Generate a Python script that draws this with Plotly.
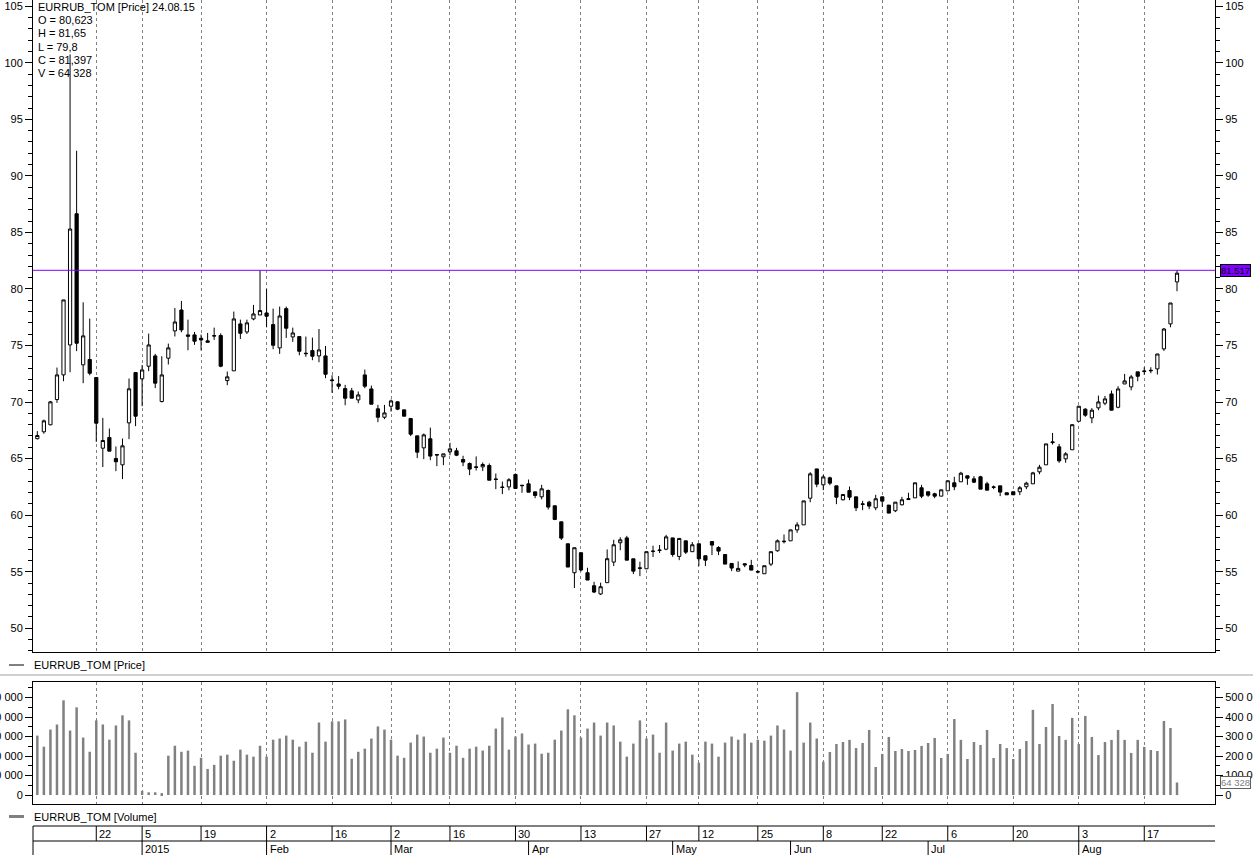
import plotly.graph_objects as go

# ---------------- data ----------------
SYMBOL = "EURRUB_TOM"
LAST_DATE = "24.08.15"

OPEN = [66.76, 67.37, 67.99, 70.22, 72.40, 75.05, 86.65, 73.29, 73.76, 72.17,
        65.92, 66.87, 65.01, 64.45, 68.16, 72.61, 72.05, 73.17, 74.08, 70.05,
        73.88, 76.29, 78.14, 75.94, 75.94, 75.64, 75.41, 75.83, 75.88, 71.90,
        72.76, 76.91, 76.20, 77.35, 77.70, 77.88, 76.85, 74.79, 78.26, 75.76,
        75.79, 74.32, 74.55, 74.08, 74.08, 71.96, 71.60, 71.19, 70.99, 70.19,
        72.40, 71.16, 69.40, 68.66, 69.63, 70.02, 69.31, 68.55, 67.01, 65.95,
        66.75, 65.36, 65.16, 65.60, 65.69, 64.92, 64.57, 64.27, 64.27, 64.39,
        63.20, 62.49, 62.50, 63.60, 62.65, 62.77, 62.06, 61.62, 62.18, 60.83,
        59.41, 57.47, 54.91, 56.68, 54.91, 53.76, 53.03, 54.03, 55.85, 57.56,
        57.99, 56.14, 55.34, 55.26, 56.78, 56.87, 56.99, 57.99, 56.35, 57.73,
        56.77, 57.47, 56.41, 57.67, 57.14, 56.52, 55.73, 55.05, 55.70, 55.55,
        55.01, 54.82, 55.67, 56.85, 57.65, 57.73, 58.70, 59.14, 61.50, 64.09,
        62.68, 63.30, 62.59, 61.36, 62.18, 61.62, 61.00, 61.15, 60.65, 61.62,
        60.89, 60.39, 60.92, 61.38, 61.53, 62.42, 62.07, 61.89, 61.68, 62.15,
        62.86, 62.95, 63.48, 63.21, 63.39, 62.77, 62.50, 62.59, 61.98, 62.07,
        62.07, 62.51, 62.77, 63.83, 64.45, 66.48, 66.04, 64.98, 65.78, 68.30,
        69.37, 68.60, 69.49, 69.90, 70.72, 69.54, 71.60, 71.34, 72.67, 72.70,
        72.76, 72.93, 74.70, 76.91, 80.623]
HIGH = [67.43, 68.45, 70.10, 73.05, 79.03, 100.74, 92.22, 78.82, 77.38, 72.17,
        68.60, 67.66, 66.07, 66.78, 72.08, 72.61, 73.28, 76.05, 74.26, 74.05,
        75.17, 78.32, 78.94, 77.29, 76.20, 75.97, 76.11, 76.58, 76.08, 72.70,
        78.00, 77.29, 77.29, 78.59, 81.65, 80.00, 78.26, 78.44, 78.44, 76.58,
        75.79, 75.79, 75.70, 76.46, 74.96, 72.37, 72.30, 71.52, 71.25, 70.93,
        72.87, 71.46, 69.75, 69.75, 70.22, 70.07, 69.31, 68.55, 67.01, 67.22,
        67.74, 65.37, 65.42, 66.39, 65.95, 65.25, 64.66, 65.19, 64.66, 64.57,
        63.68, 62.97, 63.27, 63.68, 62.65, 63.15, 62.06, 62.68, 62.27, 60.83,
        59.41, 57.47, 57.12, 56.68, 55.35, 54.11, 54.03, 56.97, 57.82, 58.05,
        58.17, 56.14, 55.88, 56.77, 57.30, 57.36, 58.26, 57.99, 57.94, 57.73,
        57.62, 57.47, 56.41, 57.67, 57.26, 56.52, 55.73, 55.91, 55.73, 56.05,
        55.14, 55.53, 56.77, 57.85, 58.29, 58.70, 59.38, 61.26, 63.80, 64.09,
        63.56, 63.41, 62.59, 61.83, 62.53, 61.62, 61.27, 61.27, 61.80, 61.62,
        60.89, 61.15, 61.62, 61.98, 62.86, 62.68, 62.07, 61.98, 62.24, 63.04,
        63.39, 63.83, 63.48, 63.45, 63.48, 62.95, 62.62, 62.59, 61.98, 62.07,
        62.57, 62.95, 63.83, 64.45, 66.30, 67.27, 66.30, 65.57, 68.00, 69.66,
        69.46, 69.46, 70.57, 70.54, 71.02, 71.40, 72.49, 72.40, 72.67, 73.08,
        73.08, 74.25, 76.55, 78.76, 81.65]
LOW = [66.70, 67.20, 67.95, 69.93, 71.84, 72.64, 74.50, 71.67, 72.37, 66.48,
       64.25, 65.66, 63.89, 63.19, 66.72, 67.87, 69.63, 72.73, 71.23, 69.96,
       73.32, 75.80, 76.17, 74.58, 75.06, 74.58, 75.29, 75.50, 73.08, 71.49,
       72.76, 75.58, 76.02, 77.23, 77.70, 76.61, 74.67, 74.26, 75.67, 75.32,
       74.14, 74.00, 73.70, 73.52, 72.11, 70.81, 71.13, 69.72, 70.34, 69.90,
       71.22, 69.81, 68.22, 68.49, 69.16, 69.28, 68.75, 66.99, 65.04, 64.95,
       64.86, 64.33, 64.42, 65.30, 65.22, 64.33, 63.54, 63.95, 63.90, 63.09,
       62.30, 61.86, 62.20, 62.36, 61.98, 62.03, 61.50, 61.39, 60.50, 59.56,
       57.80, 55.41, 53.56, 55.03, 54.26, 53.11, 52.94, 54.03, 55.50, 56.90,
       56.02, 54.79, 54.61, 55.26, 56.30, 56.65, 56.90, 56.32, 56.02, 56.56,
       56.77, 55.50, 55.50, 56.47, 56.47, 55.67, 55.05, 55.05, 55.40, 55.14,
       54.85, 54.82, 55.50, 56.77, 57.50, 57.73, 58.44, 59.14, 61.14, 62.47,
       62.21, 62.65, 60.97, 61.30, 61.33, 60.36, 60.44, 60.53, 60.44, 60.74,
       60.18, 60.27, 60.86, 61.36, 61.53, 61.50, 61.62, 61.50, 61.68, 62.15,
       62.21, 62.95, 62.68, 62.83, 62.30, 62.21, 62.30, 61.68, 61.80, 61.80,
       61.77, 62.30, 62.77, 63.62, 64.45, 66.24, 64.63, 64.63, 65.78, 68.30,
       68.69, 68.13, 69.28, 69.72, 69.28, 69.45, 71.60, 71.04, 71.84, 72.43,
       72.55, 72.43, 74.52, 76.61, 79.80]
CLOSE = [67.04, 68.34, 70.02, 72.40, 79.03, 85.30, 75.20, 75.85, 72.55, 68.13,
         66.60, 65.66, 64.72, 66.13, 71.17, 68.75, 72.84, 75.05, 71.67, 72.40,
         74.79, 77.08, 76.38, 75.82, 75.38, 75.49, 75.29, 75.87, 73.17, 72.23,
         77.35, 76.08, 77.00, 77.79, 78.09, 77.59, 75.02, 77.61, 76.53, 76.11,
         74.49, 74.28, 74.05, 74.61, 72.46, 71.90, 71.40, 70.34, 70.34, 70.63,
         71.40, 69.81, 68.66, 69.04, 70.10, 69.37, 68.75, 67.16, 65.57, 67.10,
         65.22, 65.32, 65.42, 65.86, 65.30, 64.69, 64.07, 64.23, 64.48, 63.09,
         63.16, 62.45, 63.13, 62.36, 62.61, 62.03, 61.74, 62.33, 60.71, 59.62,
         57.97, 55.41, 57.12, 55.15, 54.26, 53.20, 53.67, 56.15, 57.38, 57.82,
         56.02, 55.05, 55.30, 56.77, 56.82, 56.91, 58.08, 56.52, 57.94, 56.73,
         57.38, 56.14, 56.02, 57.35, 56.82, 55.67, 55.32, 55.29, 55.60, 55.14,
         54.97, 55.53, 56.77, 57.73, 57.69, 58.70, 59.14, 61.26, 63.65, 62.74,
         63.38, 62.83, 61.59, 61.83, 61.59, 60.65, 60.95, 60.80, 61.45, 61.24,
         60.18, 61.15, 61.36, 61.45, 62.86, 61.68, 61.77, 61.68, 62.24, 63.04,
         62.51, 63.71, 63.27, 62.92, 62.30, 62.21, 62.46, 62.04, 61.80, 61.80,
         62.42, 62.83, 63.74, 64.24, 66.30, 66.42, 64.80, 65.42, 68.00, 69.63,
         68.84, 69.28, 70.01, 70.28, 69.28, 71.16, 71.87, 72.22, 72.28, 72.74,
         72.80, 74.25, 76.46, 78.76, 81.397]
VOLUME = [305000, 248000, 336000, 362000, 486000, 331000, 450000, 295000, 222000, 383000,
          362000, 284000, 357000, 409000, 383000, 217000, 21000, 14000, 14000, 10000,
          202000, 253000, 222000, 228000, 150000, 191000, 134000, 155000, 202000, 207000,
          176000, 233000, 207000, 197000, 253000, 197000, 284000, 290000, 305000, 284000,
          248000, 274000, 217000, 372000, 274000, 378000, 378000, 388000, 186000, 222000,
          238000, 290000, 352000, 336000, 284000, 202000, 191000, 269000, 310000, 300000,
          217000, 238000, 295000, 217000, 253000, 191000, 238000, 248000, 228000, 253000,
          341000, 398000, 233000, 300000, 316000, 259000, 264000, 212000, 217000, 284000,
          331000, 440000, 409000, 295000, 341000, 372000, 305000, 372000, 357000, 274000,
          197000, 264000, 383000, 290000, 310000, 217000, 372000, 228000, 264000, 274000,
          207000, 166000, 274000, 264000, 197000, 269000, 300000, 284000, 316000, 269000,
          284000, 279000, 305000, 357000, 336000, 228000, 528000, 269000, 372000, 290000,
          171000, 221000, 262000, 272000, 283000, 241000, 267000, 334000, 144000, 211000,
          298000, 226000, 236000, 226000, 231000, 252000, 267000, 293000, 190000, 211000,
          390000, 283000, 185000, 272000, 257000, 334000, 190000, 262000, 241000, 185000,
          236000, 277000, 437000, 262000, 349000, 467000, 303000, 283000, 396000, 262000,
          406000, 298000, 205000, 272000, 283000, 334000, 283000, 216000, 283000, 247000,
          231000, 226000, 380000, 344000, 64328]

DAY_TICK_IDX = [9, 16, 25, 35, 45, 54, 63, 73, 83, 93, 101, 110, 120, 129, 139, 149, 159, 169]
DAY_TICK_LABELS = ["22", "5", "19", "2", "16", "2", "16", "30", "13", "27", "12", "25",
                   "8", "22", "6", "20", "3", "17"]
MONTH_IDX = [16, 35, 54, 75, 97, 115, 136, 159]
MONTH_LABELS = ["2015", "Feb", "Mar", "Apr", "May", "Jun", "Jul", "Aug"]

LEVEL_VALUE = 81.65
LEVEL_LABEL = "81.517"

PRICE_RANGE = [47.9, 105.55]
VOLUME_RANGE = [-46000, 580000]

# ---------------- layout helpers ----------------
W, H = 1253, 855
PL, PR = 33, 1215
FONT = "Liberation Sans, Arial, sans-serif"
FS = 11


def px(xp):
    return (xp - PL) / (PR - PL)


def py(yp):
    return 1 - yp / H


n = len(OPEN)
X = list(range(n))
XR = [-0.66, n - 1 + 5.8]

fig = go.Figure()
fig.add_trace(go.Candlestick(
    x=X, open=OPEN, high=HIGH, low=LOW, close=CLOSE, xaxis="x", yaxis="y",
    increasing=dict(line=dict(color="black", width=1), fillcolor="white"),
    decreasing=dict(line=dict(color="black", width=1), fillcolor="black"),
    whiskerwidth=0, showlegend=False, hoverinfo="skip"))
fig.add_trace(go.Bar(
    x=X, y=VOLUME, xaxis="x2", yaxis="y2", width=0.38,
    marker=dict(color="#808080", line=dict(width=0)), showlegend=False, hoverinfo="skip"))
# carrier traces so that the right-hand mirrored axes are drawn
fig.add_trace(go.Scatter(x=[X[-1]], y=[CLOSE[-1]], xaxis="x", yaxis="y3", mode="markers",
                         marker=dict(size=1, opacity=0), showlegend=False, hoverinfo="skip"))
fig.add_trace(go.Scatter(x=[X[-1]], y=[VOLUME[-1]], xaxis="x2", yaxis="y4", mode="markers",
                         marker=dict(size=1, opacity=0), showlegend=False, hoverinfo="skip"))

xgrid = dict(range=XR, tickvals=DAY_TICK_IDX, showticklabels=False, ticks="",
             showgrid=True, gridcolor="#808080", griddash="3px,3px", gridwidth=1,
             zeroline=False, fixedrange=True, automargin=False)

price_axis = dict(domain=[py(652), 1], range=PRICE_RANGE, tick0=0, dtick=5,
                  ticks="outside", ticklen=7, tickcolor="black", showline=True,
                  linecolor="black", linewidth=1, showgrid=False, zeroline=False,
                  tickfont=dict(family=FONT, size=FS, color="black"),
                  minor=dict(dtick=1, tick0=0, ticks="outside", ticklen=4,
                             tickcolor="black", showgrid=False),
                  fixedrange=True, automargin=False)
vol_axis = dict(domain=[py(804), py(682)], range=VOLUME_RANGE, tick0=0, dtick=100000,
                tickformat=",", ticks="outside", ticklen=7, tickcolor="black",
                showline=True, linecolor="black", linewidth=1, showgrid=False,
                zeroline=False, tickfont=dict(family=FONT, size=FS, color="black"),
                minor=dict(dtick=50000, tick0=0, ticks="outside", ticklen=4,
                           tickcolor="black", showgrid=False),
                fixedrange=True, automargin=False)

shapes = []
annotations = []

# level line
shapes.append(dict(type="line", xref="paper", yref="y", x0=0, x1=1,
                   y0=LEVEL_VALUE, y1=LEVEL_VALUE, line=dict(color="#8000ff", width=1)))
annotations.append(dict(xref="paper", yref="y", x=px(1220), y=LEVEL_VALUE,
                        xanchor="left", yanchor="middle", text=LEVEL_LABEL,
                        showarrow=False, bgcolor="#8000ff", bordercolor="black",
                        borderwidth=1, borderpad=0,
                        font=dict(family=FONT, size=9.5, color="black")))

# last volume label
vol_txt = f"{VOLUME[-1]:,}".replace(",", " ")
annotations.append(dict(xref="paper", yref="y2", x=px(1220), y=VOLUME[-1],
                        xanchor="left", yanchor="middle", text=vol_txt,
                        showarrow=False, bgcolor="white", bordercolor="#606060",
                        borderwidth=1, borderpad=0,
                        font=dict(family=FONT, size=9.5, color="#808080")))

# info block
def fmt(v):
    return f"{v:g}".replace(".", ",")

info = [f"{SYMBOL} [Price] {LAST_DATE}",
        f"O = {fmt(OPEN[-1])}", f"H = {fmt(HIGH[-1])}", f"L = {fmt(LOW[-1])}",
        f"C = {fmt(CLOSE[-1])}", f"V = {vol_txt}"]
for i, t in enumerate(info):
    annotations.append(dict(xref="paper", yref="paper", x=px(37), y=py(7 + i * 13.2),
                            xanchor="left", yanchor="middle", text=t, showarrow=False,
                            borderpad=0, font=dict(family=FONT, size=FS, color="black")))

# pane legends
annotations.append(dict(xref="paper", yref="paper", x=px(33), y=py(664.5), xanchor="left",
                        yanchor="middle", text=f"{SYMBOL} [Price]", showarrow=False,
                        borderpad=0, font=dict(family=FONT, size=FS, color="black")))
shapes.append(dict(type="line", xref="paper", yref="paper", x0=px(9), x1=px(24),
                   y0=py(665), y1=py(665), line=dict(color="black", width=1)))
annotations.append(dict(xref="paper", yref="paper", x=px(33), y=py(816.5), xanchor="left",
                        yanchor="middle", text=f"{SYMBOL} [Volume]", showarrow=False,
                        borderpad=0, font=dict(family=FONT, size=FS, color="black")))
shapes.append(dict(type="line", xref="paper", yref="paper", x0=px(9), x1=px(24),
                   y0=py(816.5), y1=py(816.5), line=dict(color="#808080", width=3)))

# separator between panes
shapes.append(dict(type="line", xref="paper", yref="paper", x0=px(0), x1=px(W),
                   y0=py(675), y1=py(675), line=dict(color="#a0a0a0", width=1)))

# date strip
for yy in (826, 841):
    shapes.append(dict(type="line", xref="paper", yref="paper", x0=0, x1=1,
                       y0=py(yy), y1=py(yy), line=dict(color="black", width=1)))
shapes.append(dict(type="line", xref="paper", yref="paper", x0=0, x1=0,
                   y0=py(826), y1=py(855), line=dict(color="black", width=1)))
for idx, lab in zip(DAY_TICK_IDX, DAY_TICK_LABELS):
    shapes.append(dict(type="line", xref="x", yref="paper", x0=idx, x1=idx,
                       y0=py(826), y1=py(841), line=dict(color="black", width=1)))
    annotations.append(dict(xref="x", yref="paper", x=idx, y=py(833.5), xanchor="left",
                            yanchor="middle", text=lab, showarrow=False, xshift=2,
                            borderpad=0, font=dict(family=FONT, size=FS, color="black")))
for idx, lab in zip(MONTH_IDX, MONTH_LABELS):
    shapes.append(dict(type="line", xref="x", yref="paper", x0=idx, x1=idx,
                       y0=py(841), y1=py(855), line=dict(color="black", width=1)))
    annotations.append(dict(xref="x", yref="paper", x=idx, y=py(848.5), xanchor="left",
                            yanchor="middle", text=lab, showarrow=False, xshift=2,
                            borderpad=0, font=dict(family=FONT, size=FS, color="black")))

fig.update_layout(
    width=W, height=H, margin=dict(l=PL, r=W - PR, t=0, b=0, pad=0, autoexpand=False),
    paper_bgcolor="white", plot_bgcolor="white", separators=", ",
    font=dict(family=FONT, size=FS, color="black"),
    showlegend=False, boxgap=0.3,
    xaxis=dict(domain=[0, 1], anchor="y", showline=True, linecolor="black", linewidth=1,
               rangeslider=dict(visible=False), **xgrid),
    xaxis2=dict(domain=[0, 1], anchor="y2", showline=True, mirror=True,
                linecolor="black", linewidth=1, **xgrid),
    yaxis=dict(anchor="x", side="left", **price_axis),
    yaxis3=dict(anchor="x", overlaying="y", side="right", **price_axis),
    yaxis2=dict(anchor="x2", side="left", **vol_axis),
    yaxis4=dict(anchor="x2", overlaying="y2", side="right", **vol_axis),
    shapes=shapes, annotations=annotations,
)

fig.write_html("out.html", config={"displayModeBar": False},
               post_script="document.body.style.margin='0';document.body.style.overflow='hidden';")
